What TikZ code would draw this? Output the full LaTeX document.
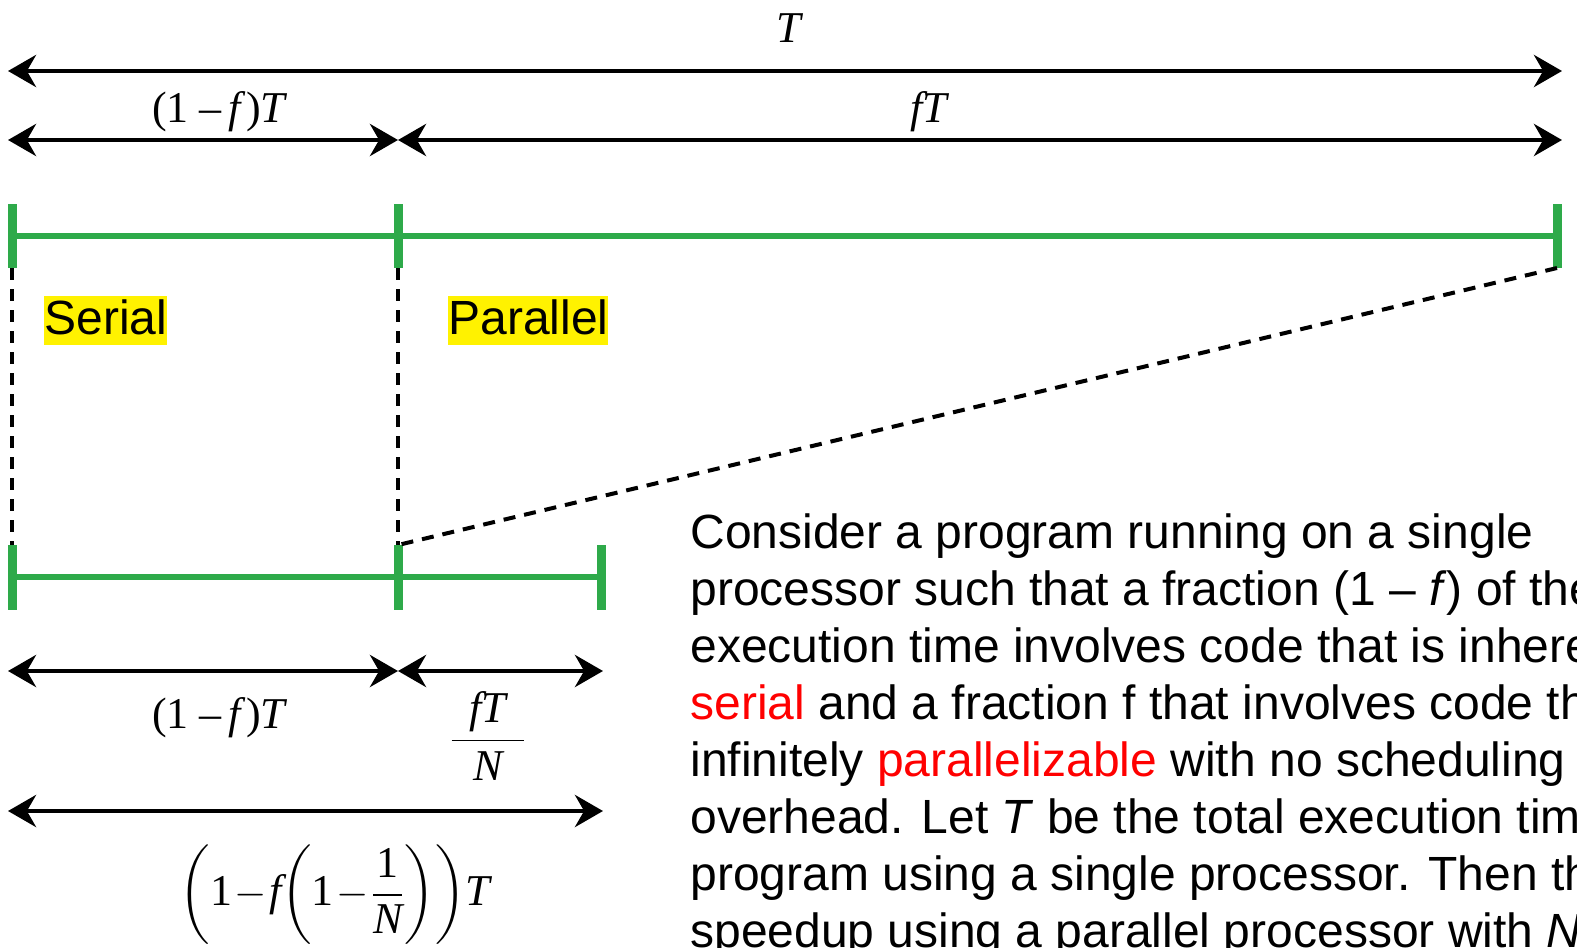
\documentclass[tikz,border=0pt]{standalone}
\usepackage{amsmath}
\usepackage{fontspec}
\setmainfont{Liberation Serif}
\newfontfamily\bodyfont{Liberation Sans}
\usetikzlibrary{arrows.meta}
\definecolor{bargreen}{RGB}{46,170,74}
\newcommand{\vf}{\text{\itshape f}}
\newcommand{\vT}{\text{\itshape T}}
\newcommand{\vN}{\text{\itshape N}}

\begin{document}
\begin{tikzpicture}[x=0.5pt,y=-0.5pt,
  span/.style={{Stealth[length=14pt,width=16pt]}-{Stealth[length=14pt,width=16pt]},line width=2.4pt},
  bar/.style={bargreen,line width=3.4pt},
  tick/.style={bargreen,line width=4.5pt},
  guide/.style={dash pattern=on 6pt off 4.5pt,line width=2pt},
  lbl/.style={font=\fontsize{22}{26}\selectfont,inner sep=0pt},
  tag/.style={fill=yellow,font=\bodyfont\fontsize{24}{28}\selectfont,inner sep=0pt,text height=19pt,text depth=5.5pt,anchor=west}]
\useasboundingbox (0,0) rectangle (1577,947);
\clip (0,0) rectangle (1577,947);

% whole run
\coordinate (a0) at (8,71);
\coordinate (a1) at (1562,71);
\draw[span] (a0) -- (a1);
\node[lbl] at (790,28) (tot) {\textit{T}};

\coordinate (b0) at (8,140);
\coordinate (b1) at (398,140);
\coordinate (b2) at (1562,140);
\draw[span] (b0) -- (b1);
\draw[span] (b1) -- (b2);
\node[lbl] at (220,112) (ser) {(1 –\,\textit{f})\textit{T}};
\node[lbl] at (930,112) (par) {\textit{fT}};

% single processor bar
\coordinate (g0) at (12,236);
\coordinate (g1) at (398,236);
\coordinate (g2) at (1557,236);
\draw[bar] (g0) -- (g2);
\coordinate (t0a) at (12,204);  \coordinate (t0b) at (12,268);
\coordinate (t1a) at (398,204); \coordinate (t1b) at (398,268);
\coordinate (t2a) at (1557,204); \coordinate (t2b) at (1557,268);
\draw[tick] (t0a) -- (t0b);
\draw[tick] (t1a) -- (t1b);
\draw[tick] (t2a) -- (t2b);

\node[tag] at (44,320.5) (serial) {Serial};
\node[tag] at (448,320.5) (parallel) {Parallel};

% N processors bar
\coordinate (h0) at (12,577);
\coordinate (h1) at (398,577);
\coordinate (h2) at (601,577);
\draw[bar] (h0) -- (h2);
\coordinate (u0a) at (12,545);  \coordinate (u0b) at (12,610);
\coordinate (u1a) at (398,545); \coordinate (u1b) at (398,610);
\coordinate (u2a) at (601,545); \coordinate (u2b) at (601,610);
\draw[tick] (u0a) -- (u0b);
\draw[tick] (u1a) -- (u1b);
\draw[tick] (u2a) -- (u2b);

\draw[guide] (t0b) -- (u0a);
\draw[guide] (t1b) -- (u1a);
\draw[guide] (t2b) -- (u1a);

\coordinate (c0) at (8,671);
\coordinate (c1) at (398,671);
\coordinate (c2) at (603,671);
\draw[span] (c0) -- (c1);
\draw[span] (c1) -- (c2);
\node[lbl] at (220,718) (ser2) {(1 –\,\textit{f})\textit{T}};
\node[lbl] at (488,736) (par2) {$\dfrac{\hspace{9pt}\vf\vT\hspace{9pt}}{\rule{0pt}{17pt}\vN}$};

\coordinate (d0) at (8,811);
\coordinate (d1) at (603,811);
\draw[span] (d0) -- (d1);
\node[lbl] at (335,895) (tot2) {\medmuskip=1mu$\mathord{\left(\text{1}-\vf\mathord{\left(\text{1}-\dfrac{\text{1}}{\vN}\right)}\right)}\vT$};

\node[anchor=base west,align=left,inner sep=0pt,font=\bodyfont\fontsize{24}{28.5}\selectfont] at (690,947) (note) {Consider a program running on a single\\
processor such that a fraction (1 – \textit{f}) of the\\
execution time involves code that is inherently\\
\textcolor{red}{serial} and a fraction f that involves code that is\\
infinitely \textcolor{red}{parallelizable} with no scheduling\\
overhead. Let \textit{T} be the total execution time of\\
program using a single processor. Then the\\
speedup using a parallel processor with \textit{N}};
\end{tikzpicture}
\end{document}
